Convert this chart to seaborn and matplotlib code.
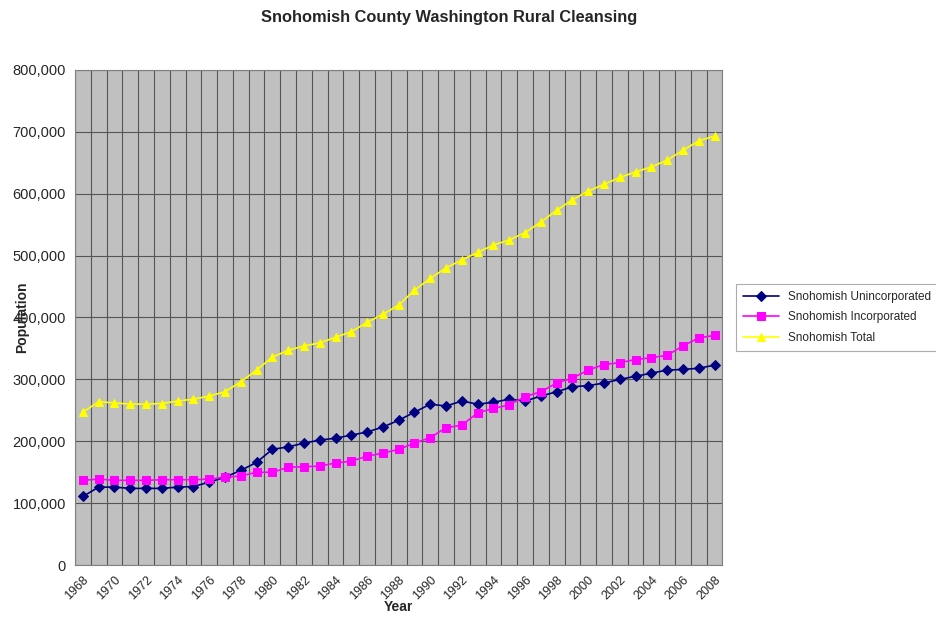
import numpy as np
import pandas as pd
import matplotlib
matplotlib.use("Agg")
import matplotlib.pyplot as plt
import seaborn as sns
from matplotlib.ticker import FuncFormatter, MultipleLocator

# data (population)
years = list(range(1968, 2009))
unincorporated = [111000, 126000, 126000, 124000, 124000, 124000, 126000, 127000, 134000, 142000,
                  153000, 166000, 187000, 191000, 197000, 202000, 205000, 210000, 215000, 223000,
                  234000, 247000, 260000, 257000, 265000, 260000, 263000, 268000, 265000, 273000,
                  280000, 288000, 290000, 294000, 300000, 305000, 310000, 315000, 316000, 318000,
                  323000]
incorporated = [137000, 139000, 137000, 137000, 137000, 138000, 138000, 138000, 139000, 142000,
                144000, 150000, 150000, 158000, 159000, 160000, 165000, 168000, 176000, 181000,
                187000, 197000, 206000, 222000, 226000, 246000, 253000, 259000, 272000, 280000,
                294000, 302000, 315000, 324000, 327000, 332000, 335000, 339000, 354000, 367000,
                371000]
total = [247000, 264000, 262000, 260000, 260000, 261000, 265000, 268000, 273000, 280000,
         296000, 315000, 336000, 347000, 354000, 359000, 368000, 377000, 392000, 405000,
         420000, 444000, 463000, 480000, 493000, 505000, 517000, 525000, 537000, 554000,
         573000, 590000, 604000, 615000, 626000, 635000, 643000, 654000, 670000, 685000,
         693000]
series_names = ["Snohomish Unincorporated", "Snohomish Incorporated", "Snohomish Total"]

df = pd.DataFrame({"Year": years,
                   series_names[0]: unincorporated,
                   series_names[1]: incorporated,
                   series_names[2]: total})

sns.set_style("white")
plt.rcParams['font.family'] = ['Liberation Sans', 'DejaVu Sans']

fig = plt.figure(figsize=(9.37, 6.17), dpi=100)
ax = fig.add_axes([0.080, 0.084, 0.691, 0.803])
ax.set_facecolor("#c0c0c0")

styles = [("#000080", "D", 5), ("#ff00ff", "s", 6), ("#ffff00", "^", 6)]
for name, (col, mk, ms) in zip(series_names, styles):
    sns.lineplot(data=df, x="Year", y=name, ax=ax, color=col, marker=mk,
                 markersize=ms, markeredgecolor=col, linewidth=1.2, label=name)

ax.set_xlim(1967.5, 2008.5)
ax.set_ylim(0, 800000)
ax.xaxis.set_major_locator(MultipleLocator(2))
ax.xaxis.set_minor_locator(MultipleLocator(1, offset=0.5))
ax.yaxis.set_major_locator(MultipleLocator(100000))
ax.yaxis.set_major_formatter(FuncFormatter(lambda v, p: f"{int(v):,}"))
ax.grid(False)
ax.grid(True, which="major", axis="y", color="#555555", linewidth=0.8)
ax.grid(True, which="minor", axis="x", color="#555555", linewidth=0.8)
ax.set_axisbelow(True)

for lbl in ax.get_xticklabels():
    lbl.set_rotation(45)
    lbl.set_ha("right")
    lbl.set_rotation_mode("anchor")
ax.tick_params(axis="x", labelsize=9, length=3, color="#333333")
ax.tick_params(axis="y", labelsize=10.5, length=3, color="#333333")
ax.tick_params(axis="x", which="minor", length=3)
for s in ax.spines.values():
    s.set_color("#808080")
    s.set_linewidth(0.8)

ax.set_xlabel("Year", fontsize=10, fontweight="bold", labelpad=-2)
ax.set_ylabel("Population", fontsize=10, fontweight="bold", labelpad=-12)

fig.suptitle("Snohomish County Washington Rural Cleansing", x=0.479, y=0.983,
             fontsize=11.8, fontweight="bold")

leg = ax.legend(loc="center left", bbox_to_anchor=(1.012, 0.5), fontsize=8.5,
                frameon=True, fancybox=False, edgecolor="#999999",
                handlelength=3, borderpad=0.6, labelspacing=0.7)
leg.get_frame().set_linewidth(0.8)

fig.savefig("out.png", dpi=100)
